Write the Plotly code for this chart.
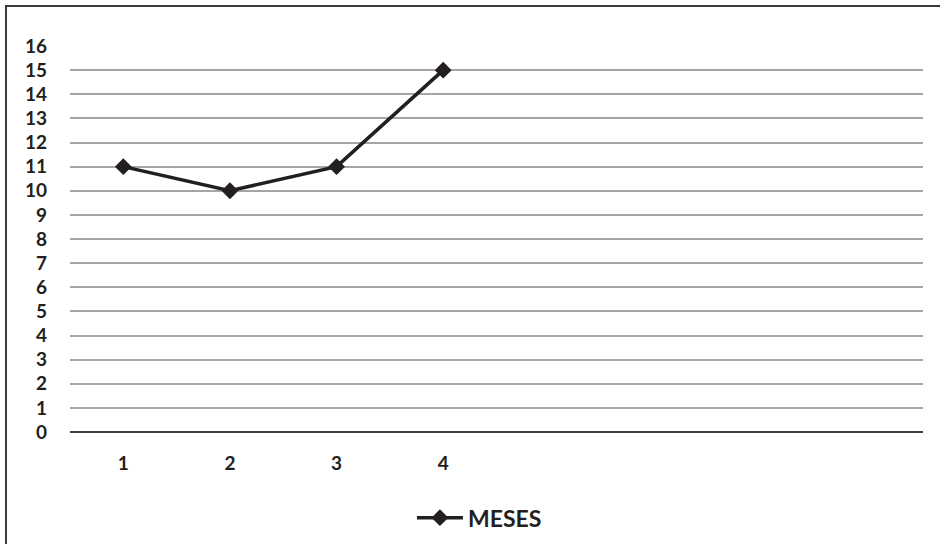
import plotly.graph_objects as go

months = [1, 2, 3, 4]
values = [11, 10, 11, 15]
series_name = "MESES"
y_ticks = list(range(0, 17))

INK = "#231f20"
FONT = "Lato"

fig = go.Figure()
fig.add_trace(go.Scatter(
    x=months, y=values, name=series_name, mode="lines+markers",
    line=dict(color=INK, width=3.5),
    marker=dict(symbol="diamond", size=13, color=INK),
))

W, H = 940, 544
L, R, T, B = 70, 17, 46, 112
pw, ph = W - L - R, H - T - B

def px_to_paper(px, py):
    return (px - L) / pw, (H - B - py) / ph

x0, y0 = px_to_paper(6, 6)
x1, y1 = px_to_paper(1000, 600)

fig.update_layout(
    width=W, height=H,
    margin=dict(l=L, r=R, t=T, b=B, autoexpand=False),
    paper_bgcolor="white", plot_bgcolor="white",
    font=dict(family=FONT, size=19, color=INK, weight="bold"),
    showlegend=True,
    legend=dict(orientation="h", x=0.48, xanchor="center", y=-0.222, yanchor="middle",
                font=dict(size=23, weight="bold"), itemwidth=46),
    xaxis=dict(range=[0.5, 8.5], tickvals=months, ticktext=[str(m) for m in months],
               showgrid=False, zeroline=False, showline=False, automargin=False,
               ticks="", ticklabelstandoff=18, fixedrange=True),
    yaxis=dict(range=[0, 16], tickvals=y_ticks, showgrid=True, gridcolor="#a6a6a6",
               gridwidth=1.5, zeroline=True, zerolinecolor="#404040", zerolinewidth=2,
               showline=False, ticks="", ticklabelstandoff=22, automargin=False,
               fixedrange=True),
    shapes=[dict(type="rect", xref="paper", yref="paper", x0=x0, y0=y1, x1=x1, y1=y0,
                 line=dict(color="#3a3a3a", width=2), fillcolor="rgba(0,0,0,0)",
                 layer="below")],
)

fig.write_html("out.html")
